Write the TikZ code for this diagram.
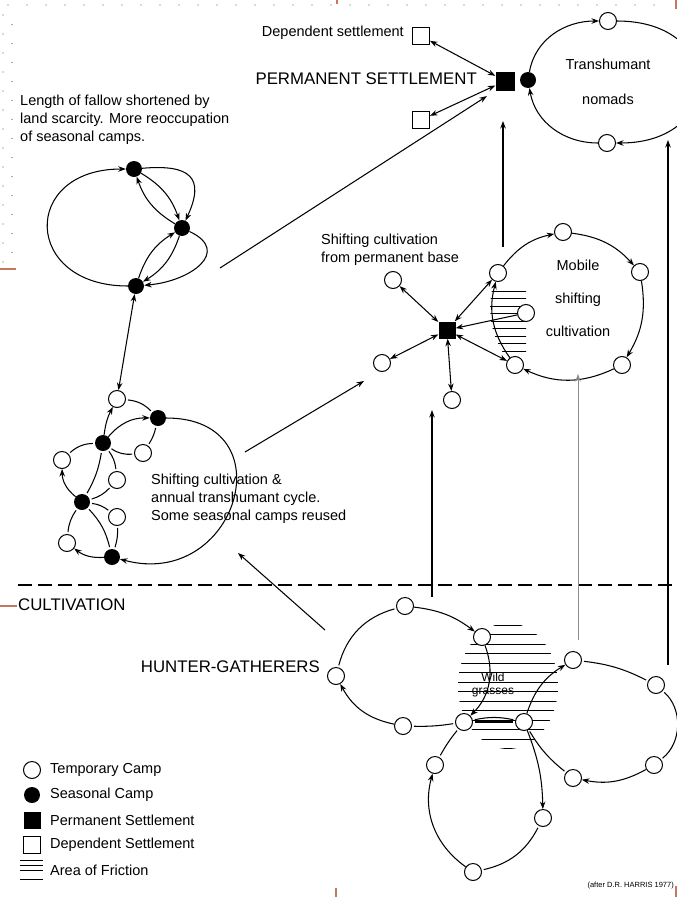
\documentclass[tikz,border=0pt]{standalone}
\usepackage{fontspec}
\setmainfont{Liberation Sans}
\usetikzlibrary{arrows.meta,positioning,calc}
\definecolor{framebrown}{RGB}{196,120,96}
\definecolor{inkgrey}{RGB}{140,140,140}
\definecolor{dotgrey}{RGB}{90,90,90}
\tikzset{
  base/.style={font=\fontsize{14.5}{18}\selectfont, align=left, inner sep=0pt, text=black},
  big/.style={font=\fontsize{16.8}{20}\selectfont, inner sep=0pt, text=black},
  camp/.style={circle, draw, fill=white, line width=1pt, minimum size=17pt, inner sep=0pt},
  seas/.style={circle, fill=black, minimum size=16pt, inner sep=0pt},
  perm/.style={rectangle, fill=black, minimum size=19pt, inner sep=0pt},
  dep/.style={rectangle, draw, fill=white, line width=1pt, minimum size=17pt, inner sep=0pt},
  arr/.style={-{Stealth[length=7.5pt,width=5.5pt]}, line width=1.05pt},
  arr2/.style={{Stealth[length=7.5pt,width=5.5pt]}-{Stealth[length=7.5pt,width=5.5pt]}, line width=1.05pt},
  ln/.style={line width=1.05pt, shorten <=2pt, shorten >=2pt},
  hatch/.style={line width=1pt},
  framedots/.style={dotgrey, line width=1.4pt, line cap=round, dash pattern=on 0pt off 19pt},
  framemark/.style={framebrown, line width=1.2pt},
  cultline/.style={line width=2.2pt, dash pattern=on 14pt off 6pt},
}
\begin{document}
\begin{tikzpicture}[x=1pt,y=-1pt]
  \useasboundingbox (0,0) rectangle (677,897);
  % frame marks
  \draw[framedots] (8,5) -- (668,5);
  \draw[framedots] (3,15) -- (3,262);
  \draw[framedots, dash phase=9.5pt] (12,15) -- (12,262);
  \draw[framemark] (0,269) -- (16,269);
  \draw[framemark] (0,606) -- (17,606);
  \draw[framemark] (676,0) -- (676,9);
  \draw[framemark] (337,0) -- (337,4);
  \draw[framemark] (336,888) -- (336,897);
  \draw[framemark] (676,886) -- (676,897);

  % hatched areas
  \begin{scope}
    \clip (508,686) ellipse [x radius=50pt, y radius=63pt];
    \foreach \y in {625,634.5,...,750} {\draw[hatch] (450,\y) -- (570,\y);}
  \end{scope}
  \begin{scope}
    \clip (509,362) to[bend left=25] (494,281) -- (526,281) -- (526,362) -- cycle;
    \foreach \y in {291,298.5,...,356} {\draw[hatch] (480,\y) -- (530,\y);}
  \end{scope}

  % permanent settlement
  \node[perm] (ps) at (505,81) {};
  \node[seas] (psd) at (528,80) {};
  \node[dep] (dep1) at (421,36) {};
  \node[dep] (dep2) at (421,120) {};
  \node[big, anchor=east] (pslbl) at (477,79) {PERMANENT SETTLEMENT};
  \node[base, anchor=east] (deplbl) at (404,33) {Dependent settlement};
  \node[camp] (tn1) at (608,21) {};
  \node[camp] (tn2) at (607,143) {};
  \node[base, align=center, anchor=north] (tnlbl) at (608,59) {Transhumant\\[17pt]nomads};
  \draw[arr2] (dep1) -- (ps);
  \draw[arr2] (dep2) -- (ps);
  \draw[arr] (psd) to[out=80, in=180] (tn1);
  \draw[arr] (tn1) to[out=0, in=0, looseness=2.3] (tn2);
  \draw[arr] (tn2) to[out=180, in=-80] (psd);

  % mobile shifting cultivation
  \node[camp] (m1) at (563,232) {};
  \node[camp] (m2) at (640,272) {};
  \node[camp] (m3) at (622,365) {};
  \node[camp] (m4) at (515,365) {};
  \node[camp] (m5) at (498,273) {};
  \node[camp] (m6) at (526,313) {};
  \node[base, align=center, anchor=north] (mlbl) at (578,260) {Mobile\\[15pt]shifting\\[15pt]cultivation};
  \draw[arr] (m5) to[bend left=20] (m1);
  \draw[arr] (m1) to[bend left=20] (m2);
  \draw[arr] (m2) to[bend left=20] (m3);
  \draw[arr] (m3) to[bend left=25] (m4);
  \draw[arr] (m4) to[bend left=25] (m5);

  % shifting cultivation from permanent base
  \node[perm, minimum size=17pt] (pb) at (447,330) {};
  \node[camp] (pb1) at (393,280) {};
  \node[camp] (pb2) at (382,363) {};
  \node[camp] (pb3) at (452,400) {};
  \node[base, anchor=north west] (pblbl) at (321,234) {Shifting cultivation\\from permanent base};
  \foreach \c in {pb1,pb2,pb3,m5,m4} {\draw[arr2] (pb) -- (\c);}
  \draw[arr] (m6) -- (pb);

  % seasonal camps, land scarcity
  \node[seas] (s1) at (134,169) {};
  \node[seas] (s2) at (182,228) {};
  \node[seas] (s3) at (136,286) {};
  \node[base, anchor=north west] (s1lbl) at (20,95) {Length of fallow shortened by\\land scarcity. More reoccupation\\of seasonal camps.};
  \draw[arr] (s3) to[out=180, in=180, looseness=2.3] (s1);
  \draw[arr] (s1) to[out=5, in=65, looseness=1.8] (s2);
  \draw[arr] (s1) to[bend left=20] (s2);
  \draw[arr] (s2) to[bend left=20] (s1);
  \draw[arr] (s2) to[out=-25, in=5, looseness=1.7] (s3);
  \draw[arr] (s3) to[bend left=20] (s2);
  \draw[arr] (s2) to[bend left=20] (s3);

  % shifting cultivation and transhumance
  \node[camp] (t1) at (117,399) {};
  \node[camp] (t2) at (143,453) {};
  \node[camp] (t3) at (62,460) {};
  \node[camp] (t4) at (117,480) {};
  \node[camp] (t5) at (117,517) {};
  \node[camp] (t6) at (67,543) {};
  \node[seas] (b1) at (158,418) {};
  \node[seas] (b2) at (103,443) {};
  \node[seas] (b3) at (82,502) {};
  \node[seas] (b4) at (112,557) {};
  \node[base, anchor=north west] (c2lbl) at (151,474) {Shifting cultivation \&\\annual transhumant cycle.\\Some seasonal camps reused};
  \draw[arr2] (s3) -- (t1);
  \draw[arr] (b2) to[bend left=10] (t1);
  \draw[ln] (t1) to[bend left=20] (b1);
  \draw[arr] (b2) to[bend left=25] (b1);
  \draw[ln] (b1) to[bend left=10] (t2);
  \draw[ln] (t2) to[bend left=20] (b2);
  \draw[ln] (b2) to[bend right=20] (t3);
  \draw[arr] (b3) to[bend left=25] (t3);
  \draw[ln] (b2) to[bend left=10] (b3);
  \draw[ln] (b2) to[bend left=15] (t4);
  \draw[ln] (t4) to[bend left=15] (b3);
  \draw[ln] (b3) to[bend left=15] (t5);
  \draw[ln] (t5) to[bend left=10] (b4);
  \draw[ln] (b3) to[bend left=15] (b4);
  \draw[ln] (b3) to[bend right=15] (t6);
  \draw[arr] (b4) to[bend left=20] (t6);
  \draw[arr] (b1) to[out=0, in=-15, looseness=2.1] (b4);

  % cultivation line
  \draw[cultline] (18,585) -- (677,585);
  \node[big, anchor=west] (cultlbl) at (18,605) {CULTIVATION};

  % hunter-gatherers
  \node[camp] (h1) at (405,606) {};
  \node[camp] (h2) at (482,637) {};
  \node[camp] (h3) at (336,676) {};
  \node[camp] (h4) at (403,726) {};
  \node[camp] (h5) at (464,722) {};
  \node[camp] (h6) at (524,722) {};
  \node[camp] (h7) at (573,660) {};
  \node[camp] (h8) at (656,685) {};
  \node[camp] (h9) at (654,765) {};
  \node[camp] (h10) at (573,778) {};
  \node[camp] (h11) at (435,765) {};
  \node[camp] (h12) at (543,818) {};
  \node[camp] (h13) at (473,872) {};
  \node[big, anchor=east] (hglbl) at (320,667) {HUNTER-GATHERERS};
  \node[font=\fontsize{12}{13}\selectfont, align=center, inner sep=0pt] (wglbl) at (493,685) {Wild\\grasses};
  \draw[arr] (h1) to[bend left=15] (h2);
  \draw[arr] (h2) to[out=-70, in=45] (h5);
  \draw[ln] (h5) to[bend left=5] (h4);
  \draw[arr] (h4) to[bend left=25] (h3);
  \draw[ln] (h3) to[bend left=30] (h1);
  \draw[ln] (h5) -- (h6);
  \draw[ln] (h5) to[bend left=12] (h6);
  \draw[arr] (h6) to[bend left=20] (h7);
  \draw[ln] (h7) to[bend left=10] (h8);
  \draw[ln] (h8) to[bend left=50] (h9);
  \draw[arr] (h9) to[bend left=20] (h10);
  \draw[ln] (h10) to[bend left=10] (h6);
  \draw[arr] (h6) to[bend left=10] (h12);
  \draw[ln] (h12) to[bend left=25] (h13);
  \draw[arr] (h13) to[bend left=35] (h11);
  \draw[ln] (h11) to[bend left=5] (h5);

  % links between stages
  \coordinate (c1out) at (220,268);
  \draw[arr, shorten >=10pt] (c1out) -- (ps.south west);
  \coordinate (c2out) at (245,452);
  \coordinate (pbin) at (364,381);
  \draw[arr] (c2out) -- (pbin);
  \coordinate (hgout) at (325,630);
  \coordinate (c2in) at (238,553);
  \draw[arr] (hgout) -- (c2in);
  \coordinate (hgup) at (432,597);
  \coordinate (pbup) at (432,410);
  \draw[arr] (hgup) -- (pbup);
  \coordinate (hgmid) at (578,640);
  \coordinate (mbot) at (578,374);
  \draw[arr, draw=inkgrey, line width=0.7pt] (hgmid) -- (mbot);
  \coordinate (hgright) at (668,665);
  \coordinate (tnin) at (668,140);
  \draw[arr] (hgright) -- (tnin);
  \coordinate (mtop) at (503,247);
  \coordinate (psin) at (503,121);
  \draw[arr] (mtop) -- (psin);

  % legend
  \node[camp] (lgcamp) at (32,770) {};
  \node[seas] (lgseas) at (32,795) {};
  \node[perm, minimum size=17pt] (lgperm) at (32,820) {};
  \node[dep] (lgdep) at (32,845) {};
  \draw[hatch] (20,860) -- (43,860);
  \draw[hatch] (20,865) -- (43,865);
  \draw[hatch] (20,870) -- (43,870);
  \draw[hatch] (20,879) -- (43,879);
  \node[base, anchor=west] (lgcamptx) at (50,770) {Temporary Camp};
  \node[base, anchor=west] (lgseastx) at (50,795) {Seasonal Camp};
  \node[base, anchor=west] (lgpermtx) at (50,820) {Permanent Settlement};
  \node[base, anchor=west] (lgdeptx) at (50,845) {Dependent Settlement};
  \node[base, anchor=west] (lghatchtx) at (50,870) {Area of Friction};
  \node[font=\fontsize{7.5}{9}\selectfont, anchor=east, inner sep=0pt] (src) at (674,886) {(after D.R. HARRIS 1977)};
\end{tikzpicture}
\end{document}
